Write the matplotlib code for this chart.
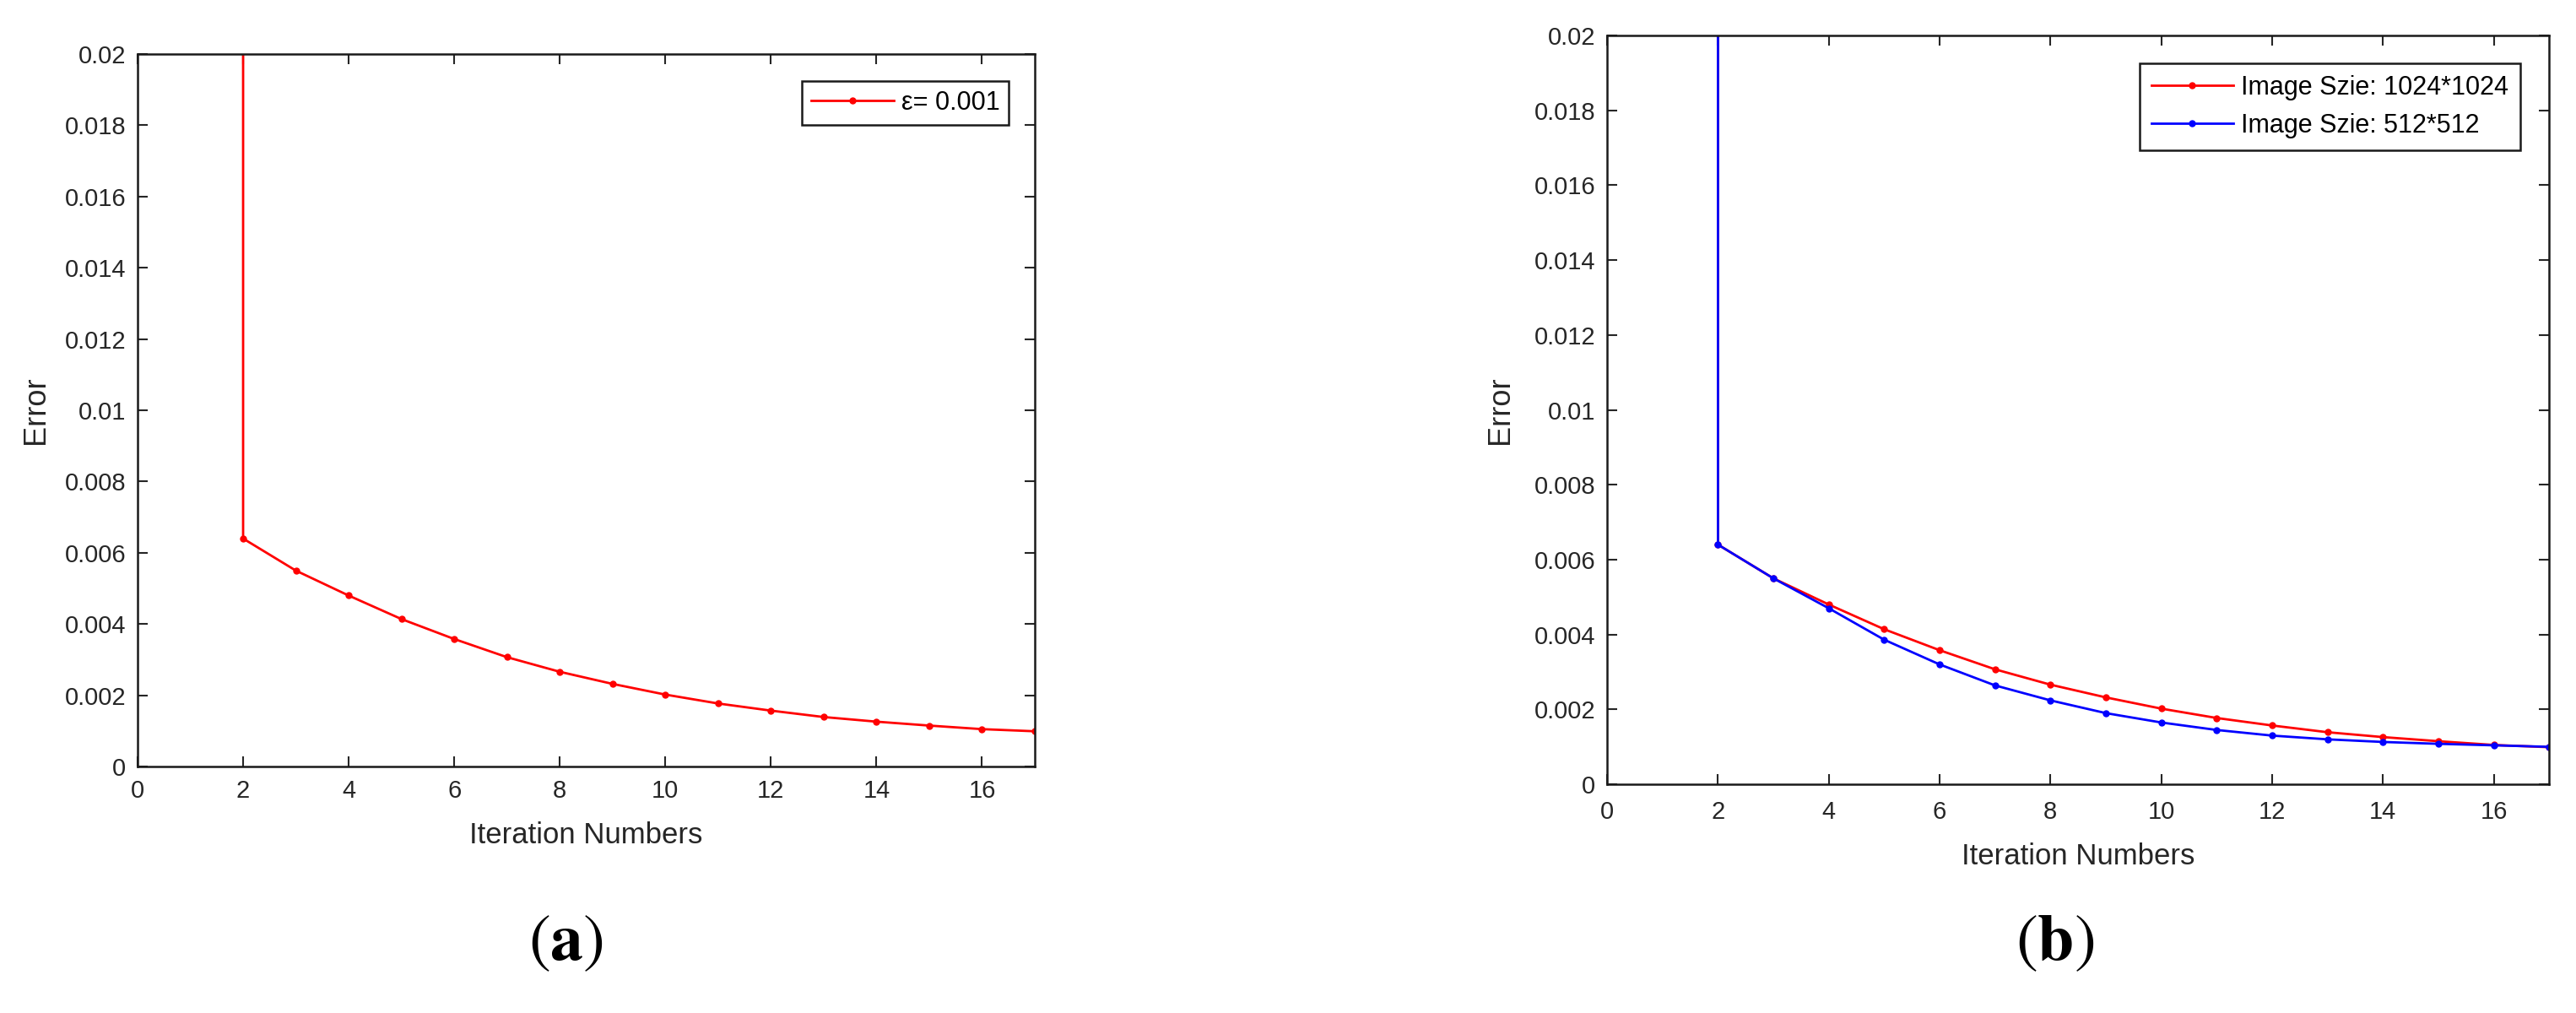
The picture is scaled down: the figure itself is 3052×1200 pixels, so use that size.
import numpy as np
import matplotlib.pyplot as plt

plt.rcParams['font.family'] = ['Liberation Sans', 'DejaVu Sans']
plt.rcParams['mathtext.fontset'] = 'stix'

# iteration 2 appears twice: the first value is far above the axis (vertical drop)
iterations = [2, 2, 3, 4, 5, 6, 7, 8, 9, 10, 11, 12, 13, 14, 15, 16, 17]
err_1024 = [0.05, 0.0064, 0.0055, 0.0048, 0.00414, 0.00358, 0.00307, 0.00266,
            0.00232, 0.00202, 0.00177, 0.00157, 0.00139, 0.00126, 0.00115,
            0.00105, 0.00099]
err_512 = [0.05, 0.0064, 0.0055, 0.0047, 0.00386, 0.0032, 0.00264, 0.00224,
           0.0019, 0.00165, 0.00145, 0.0013, 0.0012, 0.00113, 0.00108,
           0.00104, 0.001]

xticks = np.arange(0, 17, 2)
yticks = np.arange(0, 0.0201, 0.002)

fig = plt.figure(figsize=(30.52, 12), dpi=100)
ax1 = fig.add_axes([0.0534, 0.2433, 0.3483, 0.7033])
ax2 = fig.add_axes([0.6239, 0.2258, 0.3657, 0.7392])


def style(ax, xpad):
    ax.set_xlim(0, 17)
    ax.set_ylim(0, 0.02)
    ax.set_xticks(xticks)
    ax.set_yticks(yticks)
    ax.set_yticklabels(['%g' % round(v, 3) for v in yticks])
    ax.tick_params(direction='in', length=8.5, width=1.5, top=True, right=True,
                   labelsize=21, colors='#262626')
    ax.tick_params(axis='x', pad=xpad)
    ax.tick_params(axis='y', pad=10)
    for s in ax.spines.values():
        s.set_linewidth(1.8)
        s.set_color('#1a1a1a')
    ax.set_xlabel('Iteration Numbers', fontsize=25, color='#262626')
    ax.set_ylabel('Error', fontsize=26, color='#262626')
    ax.xaxis.set_label_coords(0.5, -0.077)
    ax.yaxis.set_label_coords(-0.097, 0.5)


ax1.plot(iterations, err_1024, color='red', lw=2, marker='o', ms=5,
         label='ε= 0.001')
style(ax1, 11)
leg = ax1.legend(loc='upper right', bbox_to_anchor=(0.971, 0.962),
                 borderaxespad=0, fontsize=22, handlelength=3.2,
                 handletextpad=0.3, fancybox=False, edgecolor='#1a1a1a',
                 framealpha=1, borderpad=0.35)
leg.get_frame().set_linewidth(1.8)

ax2.plot(iterations, err_1024, color='red', lw=2, marker='o', ms=5,
         label='Image Szie: 1024*1024')
ax2.plot(iterations, err_512, color='blue', lw=2, marker='o', ms=5,
         label='Image Szie: 512*512')
style(ax2, 14)
ax2.yaxis.set_label_coords(-0.098, 0.5)
ax2.xaxis.set_label_coords(0.5, -0.078)
leg2 = ax2.legend(loc='upper right', bbox_to_anchor=(0.9695, 0.963),
                  borderaxespad=0, fontsize=22, handlelength=3.2,
                  handletextpad=0.3, fancybox=False, edgecolor='#1a1a1a',
                  framealpha=1, borderpad=0.45, labelspacing=0.5)
leg2.get_frame().set_linewidth(1.8)

fig.text(670 / 3052, 1 - 1117 / 1200, r'$(\mathbf{a})$', fontsize=56,
         ha='center', va='center')
fig.text(2435 / 3052, 1 - 1117 / 1200, r'$(\mathbf{b})$', fontsize=56,
         ha='center', va='center')

fig.savefig('out.png', dpi=100)
